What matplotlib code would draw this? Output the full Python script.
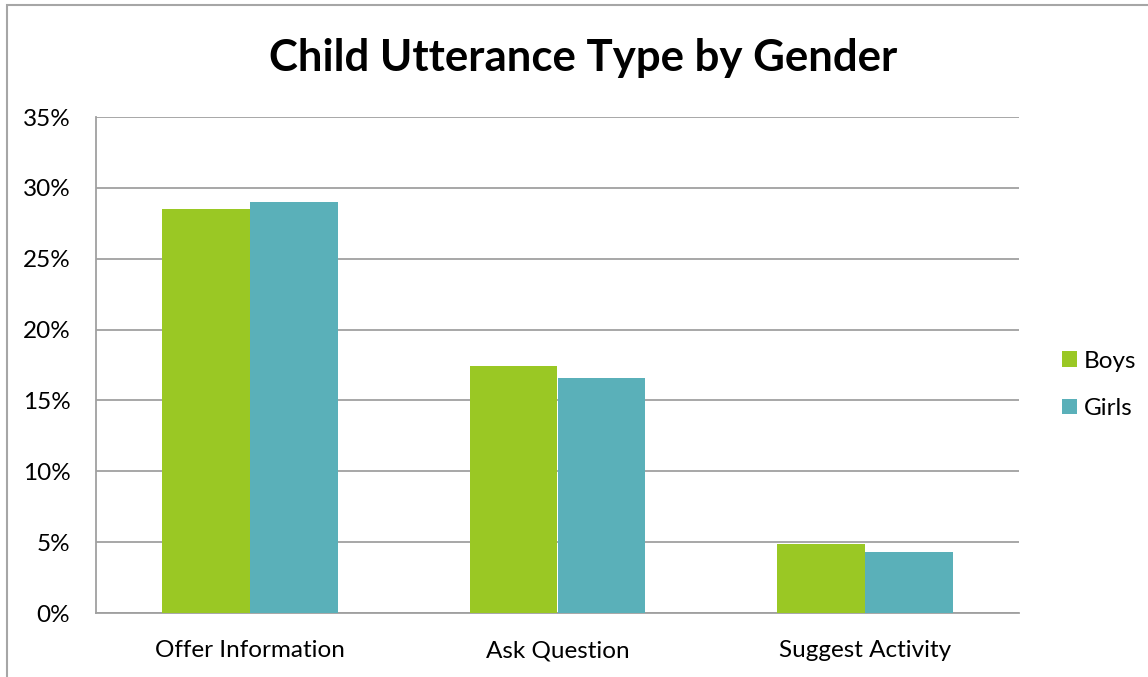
import matplotlib
matplotlib.use("Agg")
import matplotlib.pyplot as plt
from matplotlib.patches import Rectangle
import numpy as np

categories = ["Offer Information", "Ask Question", "Suggest Activity"]
boys = [28.5, 17.4, 4.9]
girls = [29.0, 16.6, 4.3]
series_names = ["Boys", "Girls"]
colors = ["#9AC824", "#5AB0B9"]
yticks = [0, 5, 10, 15, 20, 25, 30, 35]
ytick_labels = [f"{v}%" for v in yticks]

plt.rcParams['font.family'] = ['Lato', 'DejaVu Sans']

W, H = 1148, 677
fig = plt.figure(figsize=(W / 100, H / 100), dpi=100)

# outer chart border (partially cropped in reference)
fig.patches.append(Rectangle((7 / W, -0.1), 1.2, (H - 5) / H + 0.1, transform=fig.transFigure,
                             fill=False, edgecolor="#A6A6A6", linewidth=1.5))

left, right = 96 / W, 1019 / W
bottom, top = 1 - 613 / H, 1 - 117 / H
ax = fig.add_axes([left, bottom, right - left, top - bottom])

x = np.arange(len(categories))
bw = 1 / 3.5
ax.bar(x - bw / 2, boys, width=bw, color=colors[0], label=series_names[0], zorder=3)
ax.bar(x + bw / 2, girls, width=bw, color=colors[1], label=series_names[1], zorder=3)

ax.set_xlim(-0.5, len(categories) - 0.5)
ax.set_ylim(0, 35)
ax.set_yticks(yticks)
ax.set_yticklabels(ytick_labels)
ax.set_xticks(x)
ax.set_xticklabels(categories)
ax.tick_params(axis='both', length=0, labelsize=17.5, colors="black")
ax.tick_params(axis='y', pad=18.5)
ax.tick_params(axis='x', pad=19.5)
ax.yaxis.grid(True, color="#A0A0A0", linewidth=1.3, zorder=0)
ax.set_axisbelow(True)
for s in ["top", "right"]:
    ax.spines[s].set_visible(False)
for s in ["left", "bottom"]:
    ax.spines[s].set_color("#A0A0A0")
    ax.spines[s].set_linewidth(1.3)

fig.text(583 / W, 1 - 58 / H, "Child Utterance Type by Gender", ha="center", va="center",
         fontsize=31.5, fontweight="bold")

leg = fig.legend(loc="center left", bbox_to_anchor=(1062 / W, 1 - 385 / H), frameon=False,
                 fontsize=17.5, handlelength=0.62, handleheight=0.62, handletextpad=0.28,
                 labelspacing=1.08, borderpad=0, borderaxespad=0)

fig.savefig("out.png", dpi=100)
